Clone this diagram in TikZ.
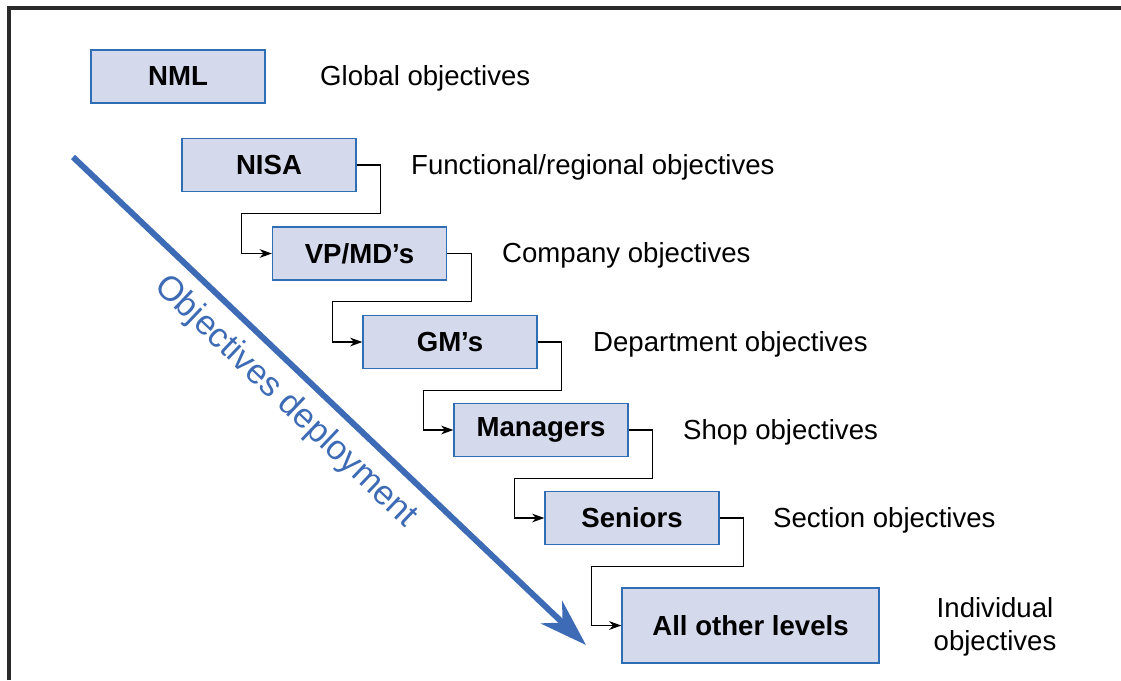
\documentclass[tikz,border=0pt]{standalone}
\usepackage{fontspec}
\setmainfont{Liberation Sans}
\usetikzlibrary{arrows.meta,calc}
\definecolor{Frame}{HTML}{2B2B2B}
\definecolor{BoxFill}{HTML}{D4D9EC}
\definecolor{BoxEdge}{HTML}{2F6DB5}
\definecolor{Deploy}{HTML}{3E6BB5}
\begin{document}
\begin{tikzpicture}[x=0.02cm,y=-0.02cm,every node/.style={font=\fontsize{15.7}{19}\selectfont,text=black},level/.style={draw=BoxEdge,fill=BoxFill,line width=0.8pt,minimum width=3.48cm,minimum height=1.06cm,font=\fontsize{15.7}{19}\selectfont\bfseries},goal/.style={anchor=west},link/.style={draw=black,line width=0.6pt,-{Stealth[length=7pt,width=5pt]}},deploy/.style={draw=Deploy,line width=3.4pt,-{Stealth[length=0.95cm,width=0.62cm,inset=0.3cm]}}]
\useasboundingbox (0,0) rectangle (1121,680);
\draw[Frame,line width=1.8pt] (9,680)--(9,8)--(1121,8);

% levels of the organisation
\node[level] (nml) at (178,76.5){NML};\node[goal] (gl) at (314,78.5){Global objectives};
\node[level] (nisa) at (269,165){NISA};\node[goal] (fr) at (405,167){Functional/regional objectives};
\node[level] (vpmd) at (359.5,253.5){VP/MD’s};\node[goal] (co) at (496,255.5){Company objectives};
\node[level] (gms) at (450,342){GM’s};\node[goal] (de) at (587,344){Department objectives};
\node[level] (mgrs) at (541,430){Managers};\node[goal] (sh) at (677,432){Shop objectives};
\node[level] (snrs) at (632,518){Seniors};\node[goal] (se) at (767,520){Section objectives};
\node[level,minimum width=5.14cm,minimum height=1.5cm] (rest) at (750.5,625.5){All other levels};
\node[align=center] (in) at (995,627){Individual\\objectives};

\foreach \a/\b in {nisa/vpmd,vpmd/gms,gms/mgrs,mgrs/snrs,snrs/rest}
  \draw[link] (\a.east) -| ($(\a.south east)+(24,21)$) -| ($(\b.west)+(-30,0)$) -- (\b.west);

% deployment arrow
\coordinate (dtop) at (73,157);\coordinate (dtip) at (586,645);
\draw[deploy] (dtop) -- node[pos=0.456,sloped,below=0.12cm,text=Deploy,font=\fontsize{19.6}{24}\selectfont] (dlabel){Objectives deployment} (dtip);
\end{tikzpicture}
\end{document}
